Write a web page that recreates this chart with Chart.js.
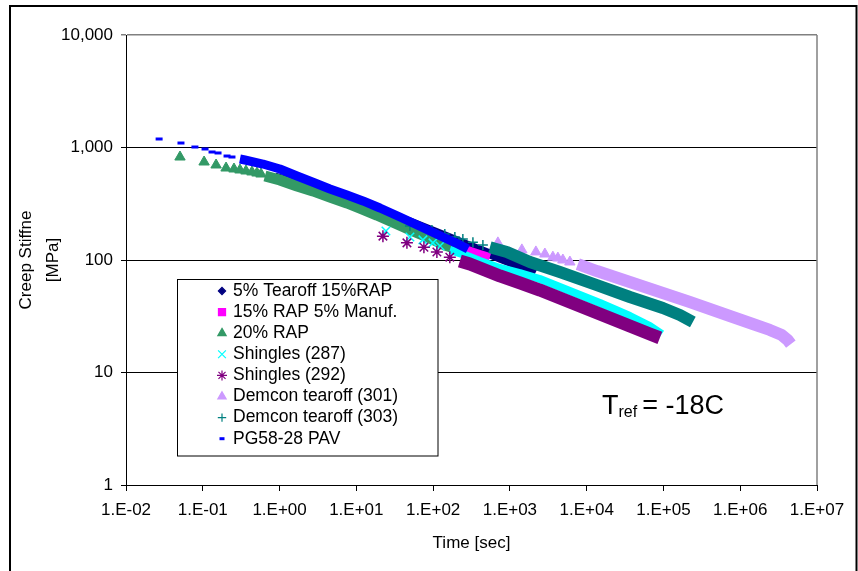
<!DOCTYPE html>
<html>
<head>
<meta charset="utf-8">
<title>Creep stiffness master curves</title>
<script src="https://cdn.jsdelivr.net/npm/chart.js@4.4.1/dist/chart.umd.min.js"></script>
<style>
  html, body { margin: 0; padding: 0; background: #fff; }
  #creepChart { display: block; background: #fff; }
</style>
</head>
<body>
<canvas id="creepChart" width="858" height="571"></canvas>
<script>
// Creep stiffness [MPa] against reduced time [s], Tref = -18C
const seriesNames = ['5% Tearoff 15%RAP', '15% RAP 5% Manuf.', '20% RAP', 'Shingles (287)',
    'Shingles (292)', 'Demcon tearoff (301)', 'Demcon tearoff (303)', 'PG58-28 PAV'];

const timeTicks = [1e-2, 1e-1, 1, 10, 100, 1e3, 1e4, 1e5, 1e6, 1e7];
const timeLabels = ['1.E-02', '1.E-01', '1.E+00', '1.E+01', '1.E+02', '1.E+03', '1.E+04', '1.E+05', '1.E+06', '1.E+07'];
const stiffTicks = [1, 10, 100, 1000, 10000];
const stiffLabels = ['1', '10', '100', '1,000', '10,000'];

// first readings of each curve, still far enough apart to show one by one  [time s, stiffness MPa]
const tearoffPoints = [];
const manufPoints = [];
const rap20Points = [[0.0505, 823], [0.104, 743], [0.149, 699], [0.201, 657], [0.255, 644],
    [0.305, 631], [0.365, 618], [0.437, 606], [0.508, 593], [0.573, 581]];
const shingle287Points = [[24.3, 181], [49.9, 160], [73.6, 151], [99.4, 142], [123, 133]];
const shingle292Points = [[22.2, 163], [45.6, 142], [75.9, 130], [112, 118], [165, 106]];
const demcon301Points = [[698, 142], [1432, 123], [2181, 118], [2856, 113], [3631, 106],
    [4217, 104], [4898, 100], [6040, 96]];
const demcon303Points = [[49.9, 201], [96.5, 185], [142, 170], [192, 160], [244, 154],
    [330, 144], [445, 136]];
const pavPoints = [[0.027, 1190], [0.052, 1096], [0.079, 1010], [0.107, 970], [0.132, 912],
    [0.158, 894], [0.207, 840], [0.240, 823]];

// the rest of each curve, where readings crowd into a solid band
const tearoffBand = [[0.871, 547], [1.84, 474], [4.53, 386], [11.1, 315], [27.4, 251], [49.9, 218],
    [90.9, 185], [165, 157], [275, 136], [472, 118], [741, 104], [1161, 92], [1567, 83.2], [2116, 75.1]];
const manufBand = [[1.84, 455], [3.36, 402], [7.10, 335], [15.0, 278], [31.8, 227], [67.3, 185],
    [142, 148], [259, 125], [407, 113], [549, 106]];
const rap20Band = [[0.645, 558], [1.01, 514], [1.69, 455], [2.72, 411], [4.53, 363], [7.55, 321],
    [11.8, 284], [18.5, 251], [31.8, 213], [54.6, 181], [90.9, 157], [142, 136], [223, 123]];
const shingle287Band = [[165, 123], [259, 111], [407, 98], [741, 84.9], [1349, 76.6], [2458, 67.8],
    [6040, 53.0], [14860, 41.5], [36520, 31.8], [66500, 25.9], [95300, 22.0]];
const shingle292Band = [[223, 98], [301, 92], [741, 72.1], [1349, 62.5], [2458, 54.1], [6040, 42.3],
    [14860, 33.1], [36520, 25.9], [66500, 22.0], [89800, 20.3]];
const demcon301Band = [[7677, 92], [13580, 79.8], [36520, 63.7], [98200, 50.9], [220600, 42.3],
    [401900, 36.7], [732000, 31.8], [1459000, 27.0], [2427000, 23.9], [3480000, 21.5],
    [4168000, 19.4], [4562000, 17.9]];
const demcon303Band = [[549, 130], [914, 118], [1821, 96], [4477, 78.2], [13580, 59.9],
    [36520, 46.9], [98200, 37.4], [163700, 32.4], [241500, 28.1]];
const pavBand = [[0.305, 790], [0.354, 774], [0.608, 713], [1.01, 644], [1.69, 558], [2.89, 483],
    [4.53, 428], [7.55, 378], [12.2, 335], [20.3, 290], [37.0, 241], [58.0, 209], [90.9, 181],
    [142, 157], [210, 139], [284, 125]];

const pointSets = [tearoffPoints, manufPoints, rap20Points, shingle287Points, shingle292Points,
    demcon301Points, demcon303Points, pavPoints];
const bandSets = [tearoffBand, manufBand, rap20Band, shingle287Band, shingle292Band,
    demcon301Band, demcon303Band, pavBand];

// look of each series
const colors = ['#000080', '#ff00ff', '#339966', '#00ffff', '#800080', '#cc99ff', '#008080', '#0000ff'];
const markers = ['rectRot', 'rect', 'triangle', 'crossRot', 'star', 'triangle', 'cross', 'line'];
const markerRadius = [4, 4, 6, 6, 6, 6, 5, 3.5];
const markerLine = [1, 1, 1, 1.5, 1.5, 1, 1.5, 3];
const bandWidth = [9, 8, 11, 8, 13, 12, 12, 9];
const legendRadius = [3.6, 5, 4.8, 5.5, 5, 4.8, 4.2, 2.5];

const FONT = '"Liberation Sans", Arial, Helvetica, sans-serif';
Chart.defaults.font.family = FONT;
Chart.defaults.font.size = 17;
Chart.defaults.color = '#000';

const toXY = arr => arr.map(p => ({ x: p[0], y: p[1] }));

const datasets = [];
seriesNames.forEach((name, i) => {
    // Excel style stacking: the later series sits on top
    const order = seriesNames.length - i;
    datasets.push({
        label: name,
        data: toXY(bandSets[i]),
        showLine: true,
        borderColor: colors[i],
        borderWidth: bandWidth[i],
        borderJoinStyle: 'round',
        borderCapStyle: 'butt',
        pointRadius: 0,
        order: order
    });
    datasets.push({
        label: name,
        data: toXY(pointSets[i]),
        showLine: false,
        pointStyle: markers[i],
        pointRadius: markerRadius[i],
        pointBorderWidth: markerLine[i],
        backgroundColor: colors[i],
        borderColor: colors[i],
        order: order
    });
});

function drawMarker(ctx, style, r, x, y, lw) {
    ctx.lineWidth = lw;
    if (Chart.helpers && Chart.helpers.drawPoint) {
        Chart.helpers.drawPoint(ctx, { pointStyle: style, radius: r, rotation: 0, borderWidth: lw }, x, y);
    } else {
        ctx.fillRect(x - r, y - r, 2 * r, 2 * r);
    }
}

// boxed legend inside the plot, over the 10 MPa gridline
const boxLegend = {
    id: 'boxLegend',
    afterDatasetsDraw(chart) {
        const { ctx, chartArea } = chart;
        const left = chartArea.left + 51.5, top = chartArea.top + 244.5;
        ctx.save();
        ctx.fillStyle = '#fff';
        ctx.fillRect(left, top, 260.5, 176.5);
        ctx.strokeStyle = '#000';
        ctx.lineWidth = 1;
        ctx.strokeRect(left, top, 260.5, 176.5);
        ctx.font = '17.5px ' + FONT;
        ctx.textBaseline = 'middle';
        ctx.textAlign = 'left';
        seriesNames.forEach((name, i) => {
            const y = top + 11.5 + i * 21.1;
            ctx.fillStyle = colors[i];
            ctx.strokeStyle = colors[i];
            drawMarker(ctx, markers[i], legendRadius[i], left + 44.5, y, i === 7 ? 3 : 1.2);
            ctx.fillStyle = '#000';
            ctx.fillText(name, left + 55.5, y);
        });
        ctx.restore();
    }
};

// outer frame, grey right edge of the plot and the reference temperature note
const frameAndNote = {
    id: 'frameAndNote',
    beforeDatasetsDraw(chart) {
        const { ctx, chartArea } = chart;
        ctx.save();
        ctx.strokeStyle = '#808080';
        ctx.lineWidth = 1.5;
        ctx.beginPath();
        ctx.moveTo(chartArea.right, chartArea.top);
        ctx.lineTo(chartArea.right, chartArea.bottom);
        ctx.stroke();
        ctx.restore();
    },
    afterDraw(chart) {
        const { ctx, chartArea } = chart;
        ctx.save();
        ctx.strokeStyle = '#000';
        ctx.lineWidth = 2;
        ctx.strokeRect(10, 6, 846.5, 600);

        const x0 = chartArea.left + 476, base = chartArea.top + 379;
        ctx.fillStyle = '#000';
        ctx.textBaseline = 'alphabetic';
        ctx.textAlign = 'left';
        ctx.font = '27px ' + FONT;
        ctx.fillText('T', x0, base);
        const tw = ctx.measureText('T').width;
        ctx.font = '16px ' + FONT;
        ctx.fillText('ref', x0 + tw, base + 3);
        const rw = ctx.measureText('ref').width;
        ctx.font = '27px ' + FONT;
        ctx.fillText('= -18C', x0 + tw + rw + 5, base);
        ctx.restore();
    }
};

new Chart(document.getElementById('creepChart'), {
    type: 'scatter',
    data: { datasets },
    options: {
        responsive: false,
        animation: false,
        devicePixelRatio: 1,
        layout: { padding: { left: 0, top: 35, right: 41, bottom: 0 } },
        plugins: {
            legend: { display: false },
            tooltip: { enabled: false }
        },
        scales: {
            x: {
                type: 'logarithmic',
                min: 1e-2,
                max: 1e7,
                afterBuildTicks: axis => { axis.ticks = timeTicks.map(v => ({ value: v })); },
                afterFit: axis => { axis.height = 86; },
                grid: { drawOnChartArea: false, color: '#000', tickLength: 6 },
                border: { color: '#000', width: 1 },
                ticks: {
                    autoSkip: false,
                    maxRotation: 0,
                    padding: 9,
                    color: '#000',
                    callback: v => timeLabels[timeTicks.indexOf(v)]
                },
                title: {
                    display: true,
                    text: 'Time [sec]',
                    color: '#000',
                    font: { size: 17 },
                    padding: { top: 0, bottom: 17 }
                }
            },
            y: {
                type: 'logarithmic',
                min: 1,
                max: 10000,
                afterBuildTicks: axis => { axis.ticks = stiffTicks.map(v => ({ value: v })); },
                afterFit: axis => { axis.width = 126; },
                grid: {
                    color: c => (c.tick && c.tick.value === 10000 ? '#808080' : '#000'),
                    lineWidth: c => (c.tick && c.tick.value === 10000 ? 1.5 : 1),
                    tickLength: 5
                },
                border: { color: '#000', width: 1 },
                ticks: {
                    autoSkip: false,
                    padding: 8,
                    color: '#000',
                    callback: v => stiffLabels[stiffTicks.indexOf(v)]
                },
                title: {
                    display: true,
                    text: ['Creep Stiffne', '[MPa]'],
                    color: '#000',
                    font: { size: 17, lineHeight: 1.59 },
                    padding: { top: 13, bottom: 0 }
                }
            }
        }
    },
    plugins: [boxLegend, frameAndNote]
});
</script>
</body>
</html>
